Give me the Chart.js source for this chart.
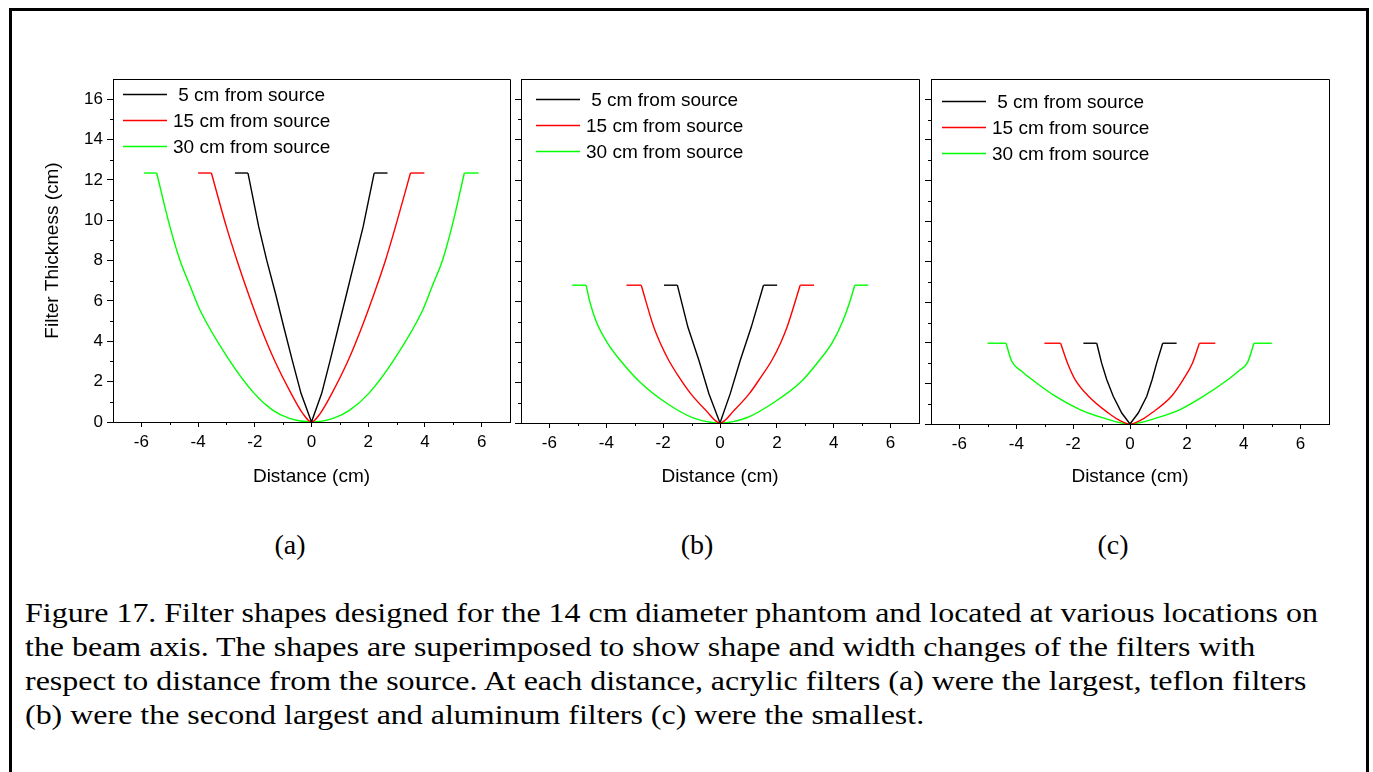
<!DOCTYPE html>
<html>
<head>
<meta charset="utf-8">
<script src="https://cdn.jsdelivr.net/npm/chart.js@4.4.1/dist/chart.umd.min.js"></script>
<style>
  html, body { margin: 0; padding: 0; background: #fff; }
  body { width: 1373px; height: 772px; overflow: hidden; position: relative; }
  .frame { position: absolute; left: 9px; top: 8px; width: 1354px; height: 800px; border: 3px solid #000; }
  canvas { position: absolute; top: 60px; }
  .sub { position: absolute; top: 528px; font-family: 'Liberation Serif', 'Times New Roman', serif;
         font-size: 28px; line-height: 34px; transform: translateX(-50%); }
  .caption { position: absolute; left: 25px; top: 596px; font-family: 'Liberation Serif', 'Times New Roman', serif;
             font-size: 27px; line-height: 34px; white-space: nowrap; transform-origin: left top; }
</style>
</head>
<body>
<div class="frame"></div>
<canvas id="chartA" width="500" height="440" style="left:20px"></canvas>
<canvas id="chartB" width="500" height="440" style="left:428px"></canvas>
<canvas id="chartC" width="500" height="440" style="left:838px"></canvas>
<div class="sub" style="left:290px">(a)</div>
<div class="sub" style="left:697px">(b)</div>
<div class="sub" style="left:1113px">(c)</div>
<div class="caption" id="caption">
  <div>Figure 17. Filter shapes designed for the 14 cm diameter phantom and located at various locations on</div>
  <div>the beam axis. The shapes are superimposed to show shape and width changes of the filters with</div>
  <div>respect to distance from the source. At each distance, acrylic filters (a) were the largest, teflon filters</div>
  <div>(b) were the second largest and aluminum filters (c) were the smallest.</div>
</div>
<script>
// series labels and colours
const labels = [' 5 cm from source', '15 cm from source', '30 cm from source'];
const colors = ['#000000', '#ff0000', '#00ff00'];

// axis ticks
const xTicks = [-6, -4, -2, 0, 2, 4, 6];
const xMinor = [-5, -3, -1, 1, 3, 5];
const yTicks = [0, 2, 4, 6, 8, 10, 12, 14, 16];
const yMinor = [1, 3, 5, 7, 9, 11, 13, 15];

// (a) acrylic
const a5x  = [-2.70, -2.24, -1.86, -1.58, -1.27, -0.98, -0.68, -0.37, 0, 0.36, 0.66, 0.95, 1.24, 1.53, 1.82, 2.21, 2.68];
const a5y  = [12.34, 12.34, 9.67, 8.02, 6.37, 4.72, 3.07, 1.42, 0, 1.42, 3.07, 4.72, 6.37, 8.02, 9.67, 12.34, 12.34];
const a15x = [-4.00, -3.53, -3.00, -2.63, -2.23, -1.80, -1.31, -0.72, -0.31, 0, 0.31, 0.72, 1.30, 1.78, 2.21, 2.61, 2.96, 3.49, 3.98];
const a15y = [12.34, 12.34, 9.67, 8.02, 6.37, 4.72, 3.07, 1.42, 0.43, 0, 0.43, 1.42, 3.07, 4.72, 6.37, 8.02, 9.67, 12.34, 12.34];
const a30x = [-5.91, -5.46, -4.99, -4.64, -4.29, -3.93, -2.90, -2.02, -1.37, -0.78, 0, 0.76, 1.35, 2.02, 2.90, 3.92, 4.27, 4.62, 4.95, 5.39, 5.89];
const a30y = [12.34, 12.34, 9.67, 8.02, 6.78, 5.54, 3.07, 1.42, 0.59, 0.18, 0, 0.18, 0.59, 1.42, 3.07, 5.54, 6.78, 8.02, 9.67, 12.34, 12.34];

// (b) teflon
const b5x  = [-1.97, -1.50, -1.13, -0.74, -0.39, 0, 0.36, 0.71, 1.10, 1.53, 2.01];
const b5y  = [6.81, 6.81, 4.74, 3.09, 1.45, 0, 1.45, 3.09, 4.74, 6.81, 6.81];
const b15x = [-3.29, -2.77, -2.33, -2.09, -1.80, -1.44, -1.03, -0.50, 0, 0.50, 1.03, 1.44, 1.82, 2.12, 2.36, 2.82, 3.31];
const b15y = [6.81, 6.81, 4.74, 3.92, 3.09, 2.27, 1.45, 0.63, 0, 0.63, 1.45, 2.27, 3.09, 3.92, 4.74, 6.81, 6.81];
const b30x = [-5.20, -4.71, -4.58, -4.35, -3.98, -3.45, -2.80, -1.85, -0.92, 0, 0.94, 1.88, 2.86, 3.47, 3.96, 4.31, 4.57, 4.74, 5.21];
const b30y = [6.81, 6.81, 6.00, 5.00, 4.00, 3.00, 2.00, 0.95, 0.24, 0, 0.26, 1.00, 2.05, 3.05, 4.00, 5.00, 6.00, 6.81, 6.81];

// (c) aluminum
const c5x  = [-1.64, -1.17, -1.00, -0.82, -0.59, -0.29, 0, 0.29, 0.59, 0.78, 0.94, 1.15, 1.64];
const c5y  = [3.98, 3.98, 3.01, 2.19, 1.37, 0.54, 0, 0.54, 1.37, 2.19, 3.01, 3.98, 3.98];
const c15x = [-3.01, -2.44, -2.20, -1.93, -1.46, -0.76, -0.41, 0, 0.41, 0.76, 1.46, 1.87, 2.20, 2.44, 3.00];
const c15y = [3.98, 3.98, 3.01, 2.19, 1.37, 0.54, 0.21, 0, 0.21, 0.54, 1.37, 2.19, 3.01, 3.98, 3.98];
const c30x = [-5.01, -4.36, -4.16, -3.81, -3.45, -2.63, -1.76, -0.94, 0, 0.94, 1.76, 2.59, 3.45, 3.81, 4.14, 4.36, 4.99];
const c30y = [3.98, 3.98, 3.09, 2.60, 2.19, 1.37, 0.71, 0.30, 0, 0.30, 0.71, 1.37, 2.19, 2.60, 3.05, 3.98, 3.98];

const sans = "'Liberation Sans', Arial, sans-serif";
Chart.defaults.color = '#000';
Chart.defaults.font.family = sans;

// box around the plot, minor ticks and the inline legend
const framePlugin = {
    id: 'panelFrame',
    afterDraw(chart, args, opts) {
        const { ctx, chartArea: { left, top, right, bottom }, scales: { x, y } } = chart;
        ctx.save();
        ctx.strokeStyle = '#000';
        ctx.lineWidth = 1;
        ctx.beginPath();
        ctx.moveTo(left, Math.round(top) + 0.5);
        ctx.lineTo(Math.round(right) + 0.5, Math.round(top) + 0.5);
        ctx.lineTo(Math.round(right) + 0.5, bottom);
        yMinor.forEach(v => {
            const py = Math.round(y.getPixelForValue(v)) + 0.5;
            ctx.moveTo(left - 3, py);
            ctx.lineTo(left, py);
        });
        xMinor.forEach(v => {
            const px = Math.round(x.getPixelForValue(v)) + 0.5;
            ctx.moveTo(px, bottom);
            ctx.lineTo(px, bottom + 3);
        });
        ctx.stroke();

        ctx.font = '19px ' + sans;
        ctx.textBaseline = 'middle';
        ctx.textAlign = 'left';
        chart.data.datasets.filter(ds => ds.label).forEach((ds, i) => {
            const ly = Math.round(top + opts.top + i * 26) + 0.5;
            ctx.strokeStyle = ds.borderColor;
            ctx.lineWidth = 1.4;
            ctx.beginPath();
            ctx.moveTo(left + opts.left, ly);
            ctx.lineTo(left + opts.left + 44, ly);
            ctx.stroke();
            ctx.fillStyle = '#000';
            ctx.fillText(ds.label, left + opts.left + 50, ly + 1);
        });
        ctx.restore();
    }
};

const toPoints = (xs, ys, from, to) => xs.slice(from, to).map((v, j) => ({ x: v, y: ys[from + j] }));

function makePanel(id, xs, ys, geo) {
    // each shape: the curved part is splined, the flat shoulders at both ends stay straight
    const curves = labels.map((label, i) => ({
        label: label,
        data: toPoints(xs[i], ys[i], 1, xs[i].length - 1),
        showLine: true,
        borderColor: colors[i],
        borderWidth: 1.4,
        pointRadius: 0,
        cubicInterpolationMode: i === 0 ? 'default' : 'monotone',
        tension: 0
    }));
    const shoulders = [];
    labels.forEach((label, i) => {
        const n = xs[i].length;
        [toPoints(xs[i], ys[i], 0, 2), toPoints(xs[i], ys[i], n - 2, n)].forEach(pts => shoulders.push({
            label: '',
            data: pts,
            showLine: true,
            borderColor: colors[i],
            borderWidth: 1.4,
            pointRadius: 0,
            tension: 0
        }));
    });

    new Chart(document.getElementById(id), {
        type: 'scatter',
        data: { datasets: curves.concat(shoulders) },
        options: {
            responsive: false,
            animation: false,
            devicePixelRatio: 1,
            layout: { padding: { left: 0, right: geo.padRight, top: 19, bottom: 0 } },
            plugins: {
                legend: { display: false },
                tooltip: { enabled: false },
                panelFrame: { left: geo.legendLeft, top: geo.legendTop }
            },
            scales: {
                x: {
                    type: 'linear',
                    min: -7,
                    max: 7,
                    afterBuildTicks: s => { s.ticks = xTicks.map(v => ({ value: v })); },
                    afterFit: s => { s.height = geo.xHeight; },
                    grid: { display: true, drawOnChartArea: false, tickLength: 5, color: '#000' },
                    border: { display: true, color: '#000', width: 1 },
                    ticks: { padding: 5, font: { size: 17 } },
                    title: { display: true, text: 'Distance (cm)', font: { size: 19 }, padding: { top: 0, bottom: 12 } }
                },
                y: {
                    type: 'linear',
                    min: 0,
                    max: 17,
                    afterBuildTicks: s => { s.ticks = yTicks.map(v => ({ value: v })); },
                    afterFit: s => { s.width = 93; },
                    grid: { display: true, drawOnChartArea: false, tickLength: 6, color: '#000' },
                    border: { display: true, color: '#000', width: 1 },
                    ticks: { display: geo.yLabels, padding: 4, font: { size: 17 } },
                    title: { display: geo.yLabels, text: 'Filter Thickness (cm)', font: { size: 19 }, padding: { top: 21, bottom: 0 } }
                }
            }
        },
        plugins: [framePlugin]
    });
}

makePanel('chartA', [a5x, a15x, a30x], [a5y, a15y, a30y],
    { padRight: 10, xHeight: 78, yLabels: true, legendLeft: 10, legendTop: 15 });
makePanel('chartB', [b5x, b15x, b30x], [b5y, b15y, b30y],
    { padRight: 9, xHeight: 77, yLabels: false, legendLeft: 15, legendTop: 20 });
makePanel('chartC', [c5x, c15x, c30x], [c5y, c15y, c30y],
    { padRight: 9, xHeight: 76, yLabels: false, legendLeft: 11, legendTop: 22 });

// stretch the caption so its first line spans the same width as in the figure
const cap = document.getElementById('caption');
const range = document.createRange();
range.selectNodeContents(cap.firstElementChild);
const w = range.getBoundingClientRect().width;
cap.style.transform = 'scaleX(' + (1293 / w).toFixed(4) + ')';
</script>
</body>
</html>
